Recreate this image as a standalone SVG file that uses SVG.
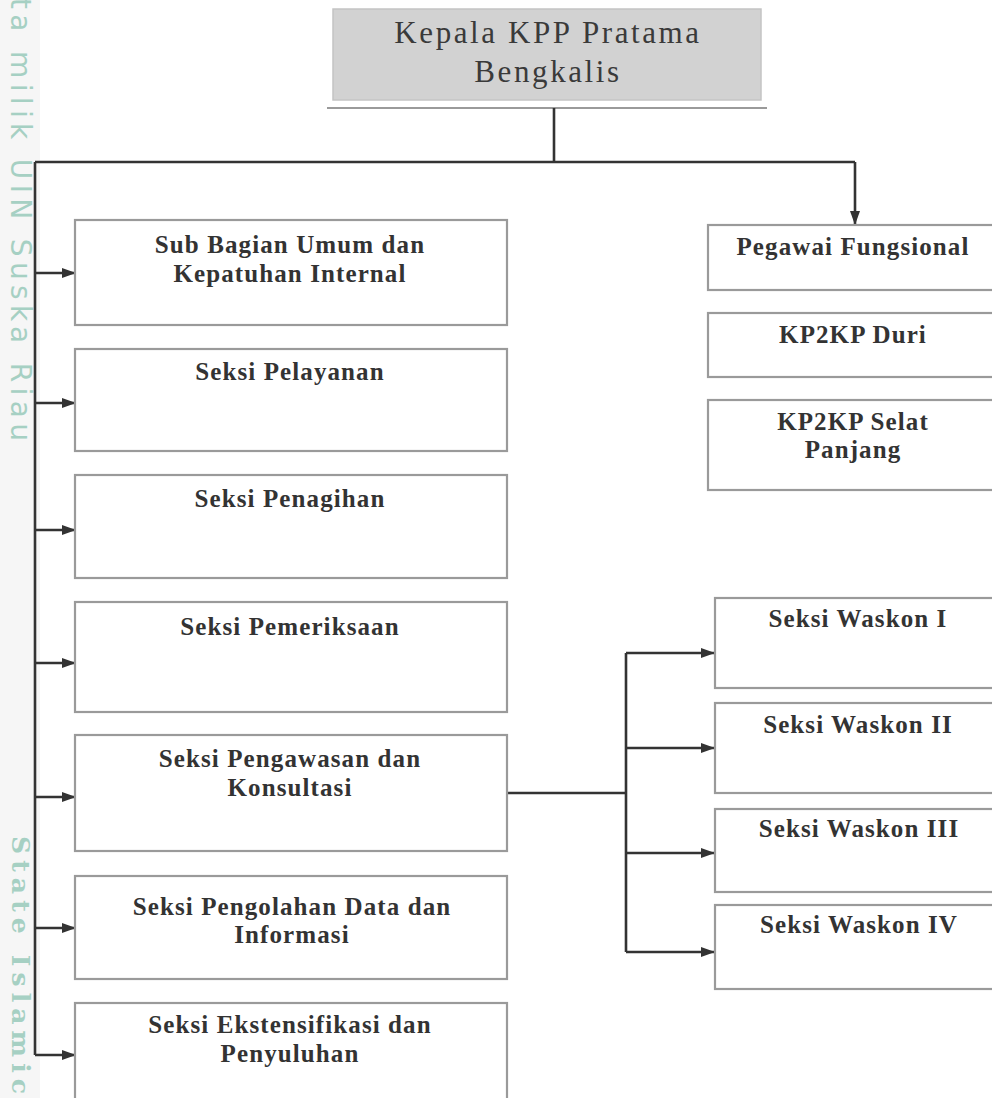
<svg xmlns="http://www.w3.org/2000/svg" width="992" height="1098" viewBox="0 0 992 1098">
<style>
.box{fill:#fff;stroke:#9a9a9a;stroke-width:2.2}
.head{fill:#d2d2d2;stroke:#c4c4c4;stroke-width:1.5}
.t{font-family:"Liberation Serif","Times New Roman",serif;font-weight:bold;font-size:25px;fill:#333;text-anchor:middle;letter-spacing:1.1px}
.th{font-family:"Liberation Serif","Times New Roman",serif;font-size:31px;fill:#3a3a3a;text-anchor:middle;letter-spacing:2.6px}
.c{fill:none;stroke:#333;stroke-width:2.6}
.wm{fill:#a6d0c3}
</style>
<defs>
<marker id="ar" viewBox="0 0 14 10" refX="13" refY="5" markerWidth="14" markerHeight="10" markerUnits="userSpaceOnUse" orient="auto">
<path d="M0,0 L14,5 L0,10 z" fill="#333"/>
</marker>
</defs>
<rect x="0" y="0" width="992" height="1098" fill="#fff"/>
<rect x="0" y="0" width="40" height="1098" fill="#f6f6f6"/>
<g id="watermark">
<text class="wm" x="11" y="-2" transform="rotate(90 11 -2)" font-family="'DejaVu Sans',sans-serif" font-size="28" textLength="443" lengthAdjust="spacing">ta milik UIN Suska Riau</text>
<text class="wm" x="12" y="836" transform="rotate(90 12 836)" font-family="'DejaVu Serif',serif" font-size="25" font-weight="bold" textLength="258" lengthAdjust="spacing">State Islamic</text>
</g>
<g id="head">
<rect class="head" x="333" y="9" width="428" height="91"/>
<text class="th" x="548" y="43">Kepala KPP Pratama</text>
<text class="th" x="548" y="82">Bengkalis</text>
<line x1="327" y1="108" x2="767" y2="108" stroke="#9a9a9a" stroke-width="2.2"/>
</g>
<g id="connectors">
<polyline class="c" points="554,108 554,162"/>
<polyline class="c" points="35,162 855,162"/>
<polyline class="c" points="855,162 855,224" marker-end="url(#ar)"/>
<polyline class="c" points="35,162 35,1055"/>
<line class="c" x1="35" y1="273" x2="75" y2="273" marker-end="url(#ar)"/>
<line class="c" x1="35" y1="403" x2="75" y2="403" marker-end="url(#ar)"/>
<line class="c" x1="35" y1="530" x2="75" y2="530" marker-end="url(#ar)"/>
<line class="c" x1="35" y1="663" x2="75" y2="663" marker-end="url(#ar)"/>
<line class="c" x1="35" y1="797" x2="75" y2="797" marker-end="url(#ar)"/>
<line class="c" x1="35" y1="928" x2="75" y2="928" marker-end="url(#ar)"/>
<line class="c" x1="35" y1="1055" x2="75" y2="1055" marker-end="url(#ar)"/>
<polyline class="c" points="507,793 626,793"/>
<polyline class="c" points="626,653 626,952"/>
<line class="c" x1="626" y1="653" x2="714" y2="653" marker-end="url(#ar)"/>
<line class="c" x1="626" y1="748" x2="714" y2="748" marker-end="url(#ar)"/>
<line class="c" x1="626" y1="853" x2="714" y2="853" marker-end="url(#ar)"/>
<line class="c" x1="626" y1="952" x2="714" y2="952" marker-end="url(#ar)"/>
</g>
<g id="sub-bagian-umum">
<rect class="box" x="75" y="220" width="432" height="105"/>
<text class="t" x="290" y="253">Sub Bagian Umum dan</text>
<text class="t" x="290" y="282">Kepatuhan Internal</text>
</g>
<g id="seksi-pelayanan">
<rect class="box" x="75" y="349" width="432" height="102"/>
<text class="t" x="290" y="380">Seksi Pelayanan</text>
</g>
<g id="seksi-penagihan">
<rect class="box" x="75" y="475" width="432" height="103"/>
<text class="t" x="290" y="507">Seksi Penagihan</text>
</g>
<g id="seksi-pemeriksaan">
<rect class="box" x="75" y="602" width="432" height="110"/>
<text class="t" x="290" y="635">Seksi Pemeriksaan</text>
</g>
<g id="seksi-pengawasan">
<rect class="box" x="75" y="735" width="432" height="116"/>
<text class="t" x="290" y="767">Seksi Pengawasan dan</text>
<text class="t" x="290" y="796">Konsultasi</text>
</g>
<g id="seksi-pengolahan">
<rect class="box" x="75" y="876" width="432" height="103"/>
<text class="t" x="292" y="915">Seksi Pengolahan Data dan</text>
<text class="t" x="292" y="943">Informasi</text>
</g>
<g id="seksi-ekstensifikasi">
<rect class="box" x="75" y="1003" width="432" height="110"/>
<text class="t" x="290" y="1033">Seksi Ekstensifikasi dan</text>
<text class="t" x="290" y="1062">Penyuluhan</text>
</g>
<g id="pegawai-fungsional">
<rect class="box" x="708" y="225" width="300" height="65"/>
<text class="t" x="853" y="255">Pegawai Fungsional</text>
</g>
<g id="kp2kp-duri">
<rect class="box" x="708" y="313" width="300" height="64"/>
<text class="t" x="853" y="343">KP2KP Duri</text>
</g>
<g id="kp2kp-selat-panjang">
<rect class="box" x="708" y="400" width="300" height="90"/>
<text class="t" x="853" y="430">KP2KP Selat</text>
<text class="t" x="853" y="458">Panjang</text>
</g>
<g id="waskon-1">
<rect class="box" x="715" y="598" width="300" height="90"/>
<text class="t" x="858" y="627">Seksi Waskon I</text>
</g>
<g id="waskon-2">
<rect class="box" x="715" y="703" width="300" height="90"/>
<text class="t" x="858" y="733">Seksi Waskon II</text>
</g>
<g id="waskon-3">
<rect class="box" x="715" y="809" width="300" height="83"/>
<text class="t" x="859" y="837">Seksi Waskon III</text>
</g>
<g id="waskon-4">
<rect class="box" x="715" y="905" width="300" height="84"/>
<text class="t" x="859" y="933">Seksi Waskon IV</text>
</g>
</svg>
